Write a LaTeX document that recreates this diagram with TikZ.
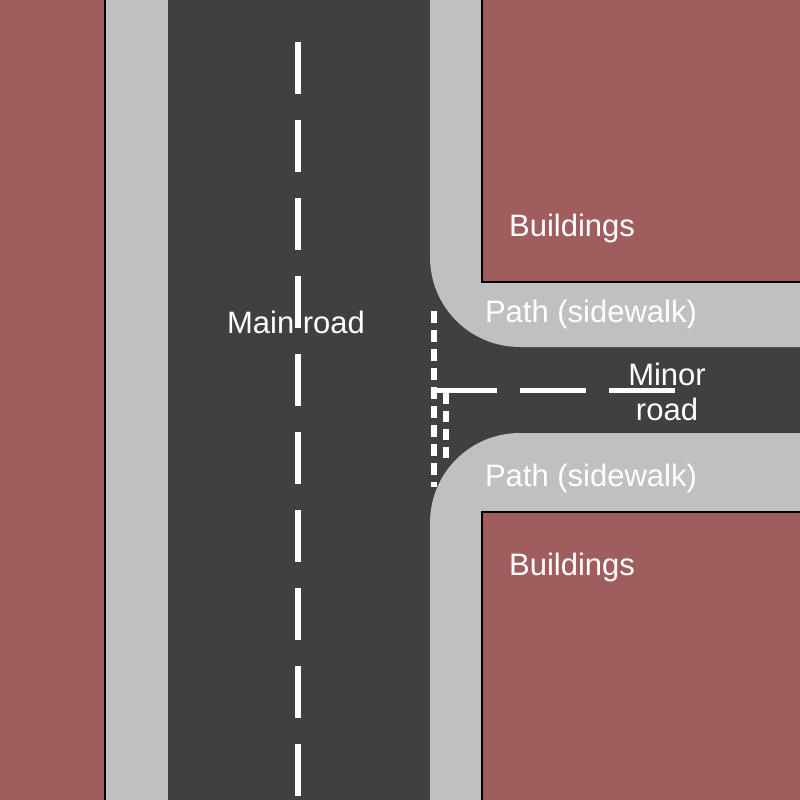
\documentclass[tikz,border=0pt]{standalone}
\usepackage{fontspec}
\setmainfont{Liberation Sans}
\definecolor{roadc}{RGB}{64,64,64}
\definecolor{bldc}{RGB}{160,93,93}
\definecolor{walkc}{RGB}{192,192,192}
\begin{document}
\begin{tikzpicture}[x=1pt,y=-1pt,
  lbl/.style={text=white,font=\fontsize{31}{35}\selectfont,inner sep=0pt,align=center},
  bld/.style={fill=bldc,draw=black,line width=1.5},
  walk/.style={fill=walkc},
  roadmark/.style={draw=white,line width=5}]
\useasboundingbox (0,0) rectangle (800,800);
\fill[roadc] (0,0) rectangle (800,800);
% left
\fill[walk] (105,0) rectangle (168,800);
\path[bld] (-5,-5) rectangle (105,805);
% right sidewalks
\fill[walk] (430,-5) -- (805,-5) -- (805,347) -- (520,347) .. controls (470,347) and (430,307) .. (430,257) -- cycle;
\fill[walk] (430,805) -- (805,805) -- (805,433) -- (520,433) .. controls (470,433) and (430,473) .. (430,523) -- cycle;
\path[bld] (482,-5) rectangle (805,282);
\path[bld] (482,805) rectangle (805,512);
% markings
\coordinate (c1) at (298,42); \coordinate (c2) at (298,800);
\draw[roadmark,line width=6,dash pattern=on 52 off 26] (c1) -- (c2);
\coordinate (g1) at (434,311); \coordinate (g2) at (434,487);
\draw[roadmark,line width=6,dash pattern=on 12 off 7] (g1) -- (g2);
\coordinate (h1) at (446,393); \coordinate (h2) at (446,460);
\draw[roadmark,line width=6,dash pattern=on 11 off 7] (h1) -- (h2);
\coordinate (m1) at (431,390); \coordinate (m2) at (680,390);
\draw[roadmark,dash pattern=on 66 off 23] (m1) -- (m2);
% labels
\node[lbl] (mainroad) at (296,322) {Main road};
\node[lbl] (b1) at (572,228) {Buildings};
\node[lbl] (b2) at (572,567) {Buildings};
\node[lbl] (p1) at (591,314) {Path (sidewalk)};
\node[lbl] (p2) at (591,478) {Path (sidewalk)};
\node[lbl,font=\fontsize{31}{35}\selectfont] (minor) at (667,392) {Minor\\road};
\end{tikzpicture}
\end{document}
